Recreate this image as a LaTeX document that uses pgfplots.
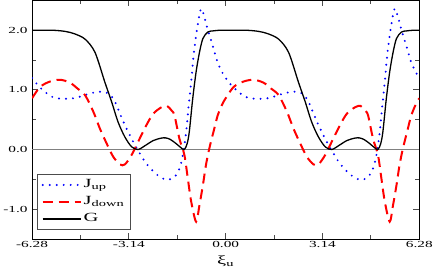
\documentclass[border=0pt]{standalone}
\usepackage{pgfplots}
\pgfplotsset{compat=1.18}
\usepackage{fontspec}
\setmainfont{Liberation Serif}
\newfontfamily\wide[FakeStretch=1.65]{Liberation Serif}
\newcommand\ticfont{\wide\fontsize{9.3}{10}\selectfont}
\newcommand\legfont{\wide\fontsize{12.5}{14}\selectfont}
\begin{document}
\begin{tikzpicture}
\begin{axis}[
  width=388pt, height=239pt, scale only axis,
  xmin=-6.28, xmax=6.28, ymin=-1.5, ymax=2.5,
  xtick={-6.28,-3.14,0,3.14,6.28},
  xticklabels={-6.28,-3.14,0.00,3.14,6.28},
  minor xtick={-4.71,-1.57,1.57,4.71},
  ytick={-1,0,1,2}, yticklabels={-1.0,0.0,1.0,2.0},
  minor ytick={-0.5,0.5,1.5},
  tick align=inside,
  major tick length=6pt, minor tick length=4pt,
  tick style={gray!60!black, line width=0.8pt},
  axis line style={line width=0.9pt},
  ticklabel style={font=\ticfont},
  xticklabel style={yshift=1pt},
  yticklabel style={xshift=-1pt},
  xlabel={\legfont ξ\textsubscript{u}},
  xlabel style={yshift=-1pt},
  legend style={at={(0.013,0.038)}, anchor=south west, draw=gray!60!black, line width=1pt, font=\legfont, row sep=0pt, inner xsep=4pt, inner ysep=2pt,
    nodes={inner sep=2pt, text height=9pt, text depth=4pt}},
  legend cell align=left,
  legend image code/.code={\draw[#1] (0pt,0pt) -- (38pt,0pt);},
]
\addplot[gray, line width=0.8pt, forget plot] coordinates {(-6.28,0) (6.28,0)};

\addplot[blue, line width=2.2pt, line cap=round, dash pattern=on 0pt off 7pt, smooth] coordinates {
(-6.28,1.20) (-6.05,1.05) (-5.91,0.99) (-5.70,0.90) (-5.48,0.86) (-5.16,0.85) (-4.83,0.87) (-4.40,0.94) (-4.10,0.97) (-3.90,0.96) (-3.75,0.92) (-3.59,0.80) (-3.43,0.60) (-3.27,0.41) (-3.11,0.24) (-2.94,0.07) (-2.78,-0.07) (-2.57,-0.24) (-2.30,-0.39) (-2.10,-0.47) (-1.88,-0.51) (-1.66,-0.46) (-1.50,-0.32) (-1.39,-0.09) (-1.28,0.30) (-1.21,0.69) (-1.12,1.13) (-1.04,1.58) (-0.93,2.02) (-0.80,2.36) (-0.69,2.22) (-0.56,1.97) (-0.42,1.74) (-0.28,1.49) (-0.14,1.32)
(0.00,1.20) (0.23,1.05) (0.37,0.99) (0.58,0.90) (0.80,0.86) (1.12,0.85) (1.45,0.87) (1.88,0.94) (2.18,0.97) (2.38,0.96) (2.53,0.92) (2.69,0.80) (2.85,0.60) (3.01,0.41) (3.17,0.24) (3.34,0.07) (3.50,-0.07) (3.71,-0.24) (3.98,-0.39) (4.18,-0.47) (4.40,-0.51) (4.62,-0.46) (4.78,-0.32) (4.89,-0.09) (5.00,0.30) (5.07,0.69) (5.16,1.13) (5.24,1.58) (5.35,2.02) (5.48,2.36) (5.59,2.22) (5.72,1.97) (5.86,1.74) (6.00,1.49) (6.14,1.32) (6.28,1.20)
};
\addlegendentry{J\textsubscript{up}}

\addplot[red, line width=2pt, dash pattern=on 10pt off 6pt, smooth] coordinates {
(-6.28,0.86) (-6.02,1.05) (-5.70,1.14) (-5.37,1.17) (-5.05,1.12) (-4.80,1.02) (-4.56,0.91) (-4.29,0.63) (-4.08,0.35) (-3.86,0.10) (-3.65,-0.12) (-3.43,-0.25) (-3.27,-0.25) (-3.05,-0.09) (-2.84,0.13) (-2.57,0.41) (-2.35,0.60) (-2.08,0.71) (-1.90,0.73) (-1.75,0.65) (-1.66,0.57) (-1.50,0.18) (-1.34,-0.09) (-1.23,-0.48) (-1.12,-0.87) (-0.96,-1.21) (-0.85,-0.93) (-0.74,-0.60) (-0.64,-0.26) (-0.53,0.02) (-0.37,0.35) (-0.26,0.57) (-0.12,0.75)
(0.00,0.86) (0.26,1.05) (0.58,1.14) (0.91,1.17) (1.23,1.12) (1.48,1.02) (1.72,0.91) (1.99,0.63) (2.20,0.35) (2.42,0.10) (2.63,-0.12) (2.85,-0.25) (3.01,-0.25) (3.23,-0.09) (3.44,0.13) (3.71,0.41) (3.93,0.60) (4.20,0.71) (4.38,0.73) (4.53,0.65) (4.62,0.57) (4.78,0.18) (4.94,-0.09) (5.05,-0.48) (5.16,-0.87) (5.32,-1.21) (5.43,-0.93) (5.54,-0.60) (5.64,-0.26) (5.75,0.02) (5.91,0.35) (6.02,0.57) (6.16,0.75) (6.28,0.86)
};
\addlegendentry{J\textsubscript{down}}

\addplot[black, line width=1.3pt, smooth] coordinates {
(-6.28,2.00) (-5.60,2.00) (-5.20,1.98) (-4.90,1.94) (-4.56,1.85) (-4.24,1.63) (-3.92,1.13) (-3.70,0.80) (-3.49,0.46) (-3.27,0.21) (-3.05,0.045) (-2.84,0.00) (-2.60,0.07) (-2.35,0.15) (-2.10,0.19) (-1.95,0.195) (-1.80,0.17) (-1.61,0.10) (-1.45,0.03) (-1.34,0.00) (-1.25,0.10) (-1.18,0.30) (-1.07,0.85) (-0.96,1.30) (-0.85,1.63) (-0.74,1.86) (-0.58,1.97) (-0.40,1.99) (-0.20,2.00)
(0.00,2.00) (0.68,2.00) (1.08,1.98) (1.38,1.94) (1.72,1.85) (2.04,1.63) (2.36,1.13) (2.58,0.80) (2.79,0.46) (3.01,0.21) (3.23,0.045) (3.44,0.00) (3.68,0.07) (3.93,0.15) (4.18,0.19) (4.33,0.195) (4.48,0.17) (4.67,0.10) (4.83,0.03) (4.94,0.00) (5.03,0.10) (5.10,0.30) (5.21,0.85) (5.32,1.30) (5.43,1.63) (5.54,1.86) (5.70,1.97) (5.88,1.99) (6.08,2.00) (6.28,2.00)
};
\addlegendentry{G}
\end{axis}
\end{tikzpicture}
\end{document}
